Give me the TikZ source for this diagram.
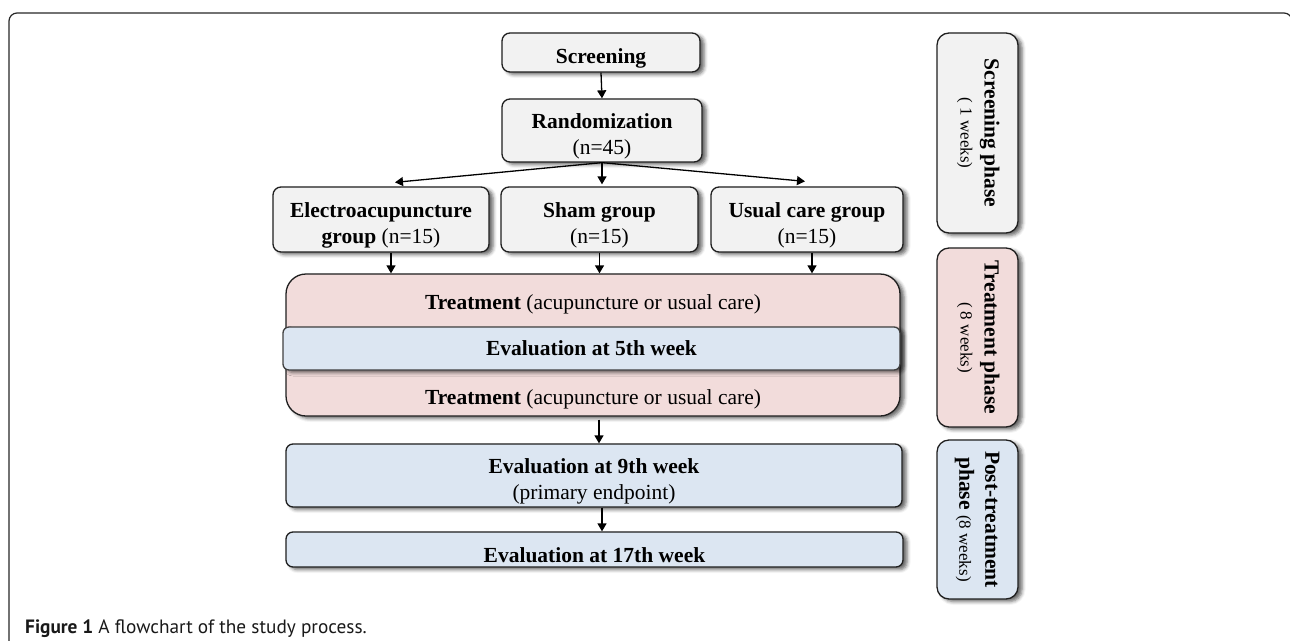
\documentclass[tikz,border=0pt]{standalone}
\usepackage{fontspec}
\usepackage{graphicx}
\setmainfont{Liberation Serif}
\newfontfamily\capfont{PT Sans}
\usetikzlibrary{arrows.meta,shadows.blur}
\definecolor{boxgray}{HTML}{F2F2F2}
\definecolor{boxpink}{HTML}{F2DCDB}
\definecolor{boxblue}{HTML}{DCE6F2}
\newcommand{\tstrut}{\rule{0pt}{26pt}}
\begin{document}
\begin{tikzpicture}[x=1pt,y=-1pt,
  shad/.style={blur shadow={shadow xshift=4pt,shadow yshift=-2.5pt,shadow blur radius=3.5pt,shadow opacity=60}},
  boxbase/.style={draw=black!88,line width=1.3pt,align=center,inner sep=0pt,shad,
    font=\fontsize{21.5}{26}\selectfont},
  graybox/.style={boxbase,fill=boxgray,rounded corners=8pt},
  pinkbox/.style={boxbase,fill=boxpink,rounded corners=20pt},
  bluebox/.style={boxbase,fill=boxblue,rounded corners=7pt},
  phasebox/.style={boxbase,rounded corners=12pt,minimum width=81pt},
  txt/.style={inner sep=0pt,font=\fontsize{21.5}{26}\selectfont},
  arr/.style={line width=1.3pt,-{Triangle[length=8pt,width=9pt]}},
  frame/.style={line width=1.2pt,draw=black!85,rounded corners=8pt}
]
\useasboundingbox (0,0) rectangle (1290,640);
\draw[frame] (9,660) -- (9,13) -- (1292,13) -- (1292,660);

% main column
\node[graybox,minimum width=198pt,minimum height=39pt] (screen) at (601,52.5) {\tstrut\textbf{Screening}};
\node[graybox,minimum width=200pt,minimum height=63pt] (rand) at (602,130.5) {\tstrut\textbf{Randomization}\\(n=45)};
\node[graybox,minimum width=216pt,minimum height=65pt] (electro) at (381,219.5) {\tstrut\textbf{Electroacupuncture}\\\textbf{group} (n=15)};
\node[graybox,minimum width=197pt,minimum height=65pt] (sham) at (599.5,219.5) {\tstrut\textbf{Sham group}\\(n=15)};
\node[graybox,minimum width=192pt,minimum height=65pt] (usual) at (807,219.5) {\tstrut\textbf{Usual care group}\\(n=15)};

\node[pinkbox,minimum width=614pt,minimum height=142pt] (treat) at (593,345) {};
\node[txt,anchor=base] (t1) at (593,309.5) {\textbf{Treatment} (acupuncture or usual care)};
\node[txt,anchor=base] (t2) at (593,404) {\textbf{Treatment} (acupuncture or usual care)};
\node[bluebox,draw=black!75,minimum width=617pt,minimum height=43pt,rounded corners=6pt] (eval5) at (591.5,348.5) {\textbf{Evaluation at 5th week}};

\node[bluebox,minimum width=616pt,minimum height=63pt] (eval9) at (594,475.5) {\tstrut\textbf{Evaluation at 9th week}\\(primary endpoint)};
\node[bluebox,minimum width=617pt,minimum height=35pt] (eval17) at (594.5,549.5) {\tstrut\textbf{Evaluation at 17th week}};

% phase column
\node[phasebox,fill=boxgray,minimum height=200pt] (ph1) at (977.5,133)
  {\rotatebox[origin=c]{-90}{\fontsize{21.5}{24}\selectfont\begin{tabular}{@{}c@{}}\textbf{Screening phase}\\{\fontsize{17}{20}\selectfont ( 1 weeks)}\end{tabular}}};
\node[phasebox,fill=boxpink,minimum height=179pt] (ph2) at (977.5,337.5)
  {\rotatebox[origin=c]{-90}{\fontsize{21.5}{24}\selectfont\begin{tabular}{@{}c@{}}\textbf{Treatment phase}\\{\fontsize{17}{20}\selectfont ( 8 weeks)}\end{tabular}}};
\node[phasebox,fill=boxblue,minimum height=159pt] (ph3) at (977.5,519.5)
  {\rotatebox[origin=c]{-90}{\fontsize{21.5}{26}\selectfont\begin{tabular}{@{}c@{}}\textbf{Post-treatment}\\\textbf{phase} {\fontsize{17}{20}\selectfont (8 weeks)}\end{tabular}}};

% connectors
\draw[arr] (screen.south) -- (rand.north);
\draw[arr] (rand.south) -- ([xshift=14pt,yshift=4pt]electro.north);
\draw[arr] (rand.south) -- ([xshift=2.5pt,yshift=2pt]sham.north);
\draw[arr] (rand.south) -- ([xshift=-2pt,yshift=5pt]usual.north);
\draw[arr] ([xshift=10pt]electro.south) -- ([xshift=10pt]electro.south |- treat.north);
\draw[arr] (sham.south) -- (sham.south |- treat.north);
\draw[arr] ([xshift=5pt]usual.south) -- ([xshift=5pt]usual.south |- treat.north);
\draw[arr] ([xshift=6pt,yshift=-3pt]treat.south) -- ([xshift=6pt]treat.south |- eval9.north);
\draw[arr] ([xshift=8pt]eval9.south) -- ([xshift=8pt]eval9.south |- eval17.north);

% caption
\node[anchor=base west,inner sep=0pt,text=black!90,font=\capfont\fontsize{19.3}{22}\selectfont] (cap) at (25,633)
  {\textbf{Figure 1} A flowchart of the study process.};
\end{tikzpicture}
\end{document}
